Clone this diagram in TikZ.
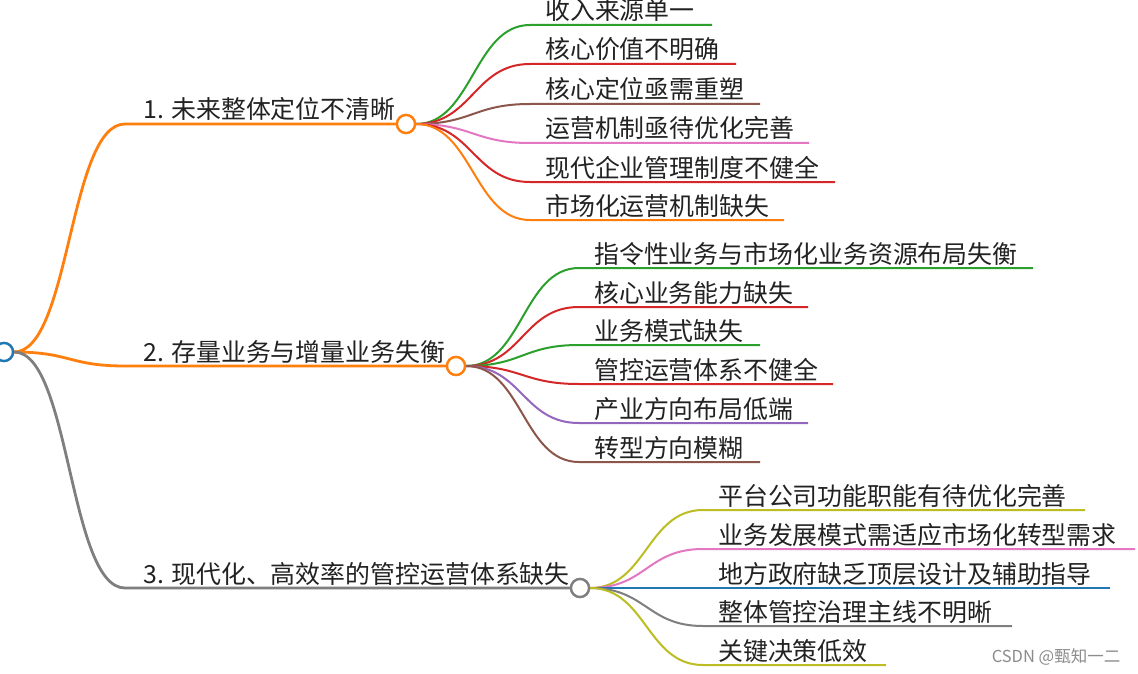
\documentclass[tikz,border=0pt]{standalone}
\usepackage{fontspec}
\setmainfont{Noto Sans CJK SC}
\usetikzlibrary{calc}
\definecolor{mmblue}{HTML}{1F77B4}
\definecolor{mmorange}{HTML}{FF7F0E}
\definecolor{mmgreen}{HTML}{2CA02C}
\definecolor{mmred}{HTML}{D62728}
\definecolor{mmpurple}{HTML}{9467BD}
\definecolor{mmbrown}{HTML}{8C564B}
\definecolor{mmpink}{HTML}{E377C2}
\definecolor{mmgrey}{HTML}{7F7F7F}
\definecolor{mmolive}{HTML}{BCBD22}
\definecolor{txt}{HTML}{222222}
\tikzset{
  dot/.style={circle, draw=#1, fill=white, line width=2.3pt, minimum size=18pt, inner sep=0pt},
  lbl/.style={anchor=base west, inner sep=0pt, text=txt, font=\fontsize{24.9}{28}\selectfont},
  mainlink/.style={draw=#1, line width=2.8pt},
  leaflink/.style={draw=#1, line width=2pt},
}
% \leaf{parent}{name}{colour}{y}{text x}{line end x}{text}
\newcommand\leaf[7]{%
  \coordinate (#2s) at ($(#5,#4)+(-15,0)$);
  \coordinate (#2e) at (#6,#4);
  \node[lbl] (#2) at ($(#5,#4)+(0,-5)$) {#7};
  \draw[leaflink=#3] (#1.east) .. controls ($(#1.east)+(56,0)$) and ($(#2s)+(-56,0)$) .. (#2s) -- (#2e);
}
\begin{document}
\begin{tikzpicture}[x=1pt,y=-1pt]
\useasboundingbox (0,0) rectangle (1138,674);
\fill[white] (0,0) rectangle (1138,674);

% main branches
\coordinate (m1s) at (125,124);
\coordinate (m2s) at (125,366);
\coordinate (m3s) at (125,588);
\node[dot=mmorange] (b1) at (406,124) {};
\node[dot=mmorange] (b2) at (456,366) {};
\node[dot=mmgrey] (b3) at (580,588) {};
\node[dot=mmblue] (root) at (4,352) {};

\draw[mainlink=mmorange] (root.east) .. controls ($(root.east)+(56,0)$) and ($(m1s)+(-56,0)$) .. (m1s) -- (b1.west);
\draw[mainlink=mmorange] (root.east) .. controls ($(root.east)+(56,0)$) and ($(m2s)+(-56,0)$) .. (m2s) -- (b2.west);
\draw[mainlink=mmgrey] (root.east) .. controls ($(root.east)+(56,0)$) and ($(m3s)+(-56,0)$) .. (m3s) -- (b3.west);
\node[dot=mmblue] at (root) {};

\node[lbl] (t1) at (143,119) {1. 未来整体定位不清晰};
\node[lbl] (t2) at (143,361) {2. 存量业务与增量业务失衡};
\node[lbl] (t3) at (143,583) {3. 现代化、高效率的管控运营体系缺失};

% children of branch 1
\leaf{b1}{a1}{mmgreen}{25}{545}{712}{收入来源单一}
\leaf{b1}{a2}{mmred}{64}{545}{736}{核心价值不明确}
\leaf{b1}{a3}{mmbrown}{104}{545}{760}{核心定位亟需重塑}
\leaf{b1}{a4}{mmpink}{143}{545}{809}{运营机制亟待优化完善}
\leaf{b1}{a5}{mmred}{182}{545}{835}{现代企业管理制度不健全}
\leaf{b1}{a6}{mmorange}{220}{545}{784}{市场化运营机制缺失}

% children of branch 2
\leaf{b2}{c1}{mmgreen}{268}{594}{1033}{指令性业务与市场化业务资源布局失衡}
\leaf{b2}{c2}{mmred}{307}{594}{808}{核心业务能力缺失}
\leaf{b2}{c3}{mmgreen}{345}{594}{760}{业务模式缺失}
\leaf{b2}{c4}{mmred}{384}{594}{833}{管控运营体系不健全}
\leaf{b2}{c5}{mmpurple}{423}{594}{808}{产业方向布局低端}
\leaf{b2}{c6}{mmbrown}{462}{594}{760}{转型方向模糊}

% children of branch 3
\leaf{b3}{d1}{mmolive}{510}{718}{1085}{平台公司功能职能有待优化完善}
\leaf{b3}{d2}{mmpink}{549}{718}{1135}{业务发展模式需适应市场化转型需求}
\leaf{b3}{d3}{mmblue}{588}{718}{1110}{地方政府缺乏顶层设计及辅助指导}
\leaf{b3}{d4}{mmgrey}{626}{718}{1012}{整体管控治理主线不明晰}
\leaf{b3}{d5}{mmolive}{665}{718}{886}{关键决策低效}

% circles on top of links
\node[dot=mmorange] at (b1) {};
\node[dot=mmorange] at (b2) {};
\node[dot=mmgrey] at (b3) {};

\node[text=black!45, font=\fontsize{16.5}{18}\selectfont, inner sep=0pt] (wm) at (1056,657) {CSDN @甄知一二};
\end{tikzpicture}
\end{document}
